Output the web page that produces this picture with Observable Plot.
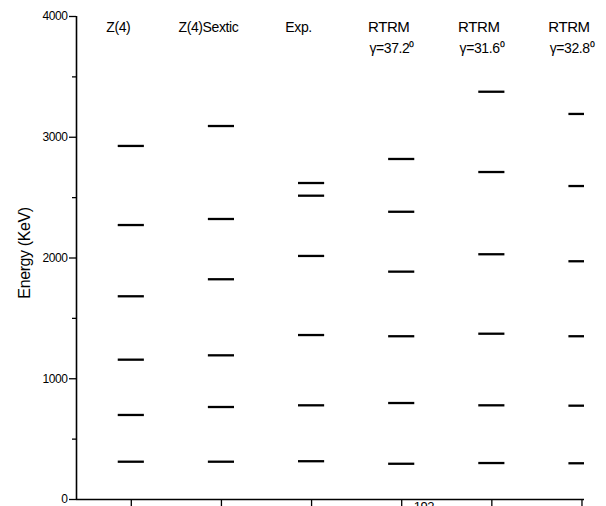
<!DOCTYPE html>
<html>
<head>
<meta charset="utf-8">
<script src="https://cdn.jsdelivr.net/npm/d3@7"></script>
<script src="https://cdn.jsdelivr.net/npm/@observablehq/plot@0.6"></script>
<style>
  html, body { margin: 0; padding: 0; background: #fff; overflow: hidden; }
  #chart { width: 606px; height: 506px; overflow: hidden; }
  #chart text { letter-spacing: -0.4px; }
</style>
</head>
<body>
<div id="chart"></div>
<script>
// Column headers
const headers = ["Z(4)", "Z(4)Sextic", "Exp.", "RTRM", "RTRM", "RTRM"];
const gammas = ["", "", "", "γ=37.2⁰", "γ=31.6⁰", "γ=32.8⁰"];
// Level energies (keV) per column
const z4 = [313, 700, 1158, 1683, 2273, 2928];
const z4Sextic = [313, 766, 1194, 1824, 2323, 3093];
const expt = [317, 780, 1362, 2017, 2516, 2621];
const rtrm372 = [296, 799, 1352, 1887, 2383, 2820];
const rtrm316 = [302, 780, 1373, 2031, 2712, 3377];
const rtrm328 = [300, 777, 1352, 1973, 2596, 3193];
const yTicks = [0, 1000, 2000, 3000, 4000];
const yMinor = [500, 1500, 2500, 3500];
const nucleus = "192";

const series = [z4, z4Sextic, expt, rtrm372, rtrm316, rtrm328];
const levels = series.flatMap((arr, i) => arr.map(E => ({col: i + 1, E})));
const cols = headers.map((h, i) => ({col: i + 1, h, g: gammas[i]}));
const halfW = 0.145;
const font = "'Liberation Sans', Arial, sans-serif";

const chart = Plot.plot({
  width: 606,
  height: 506,
  marginLeft: 76,
  marginRight: 22,
  marginTop: 16,
  marginBottom: 7,
  style: {fontFamily: font, background: "#fff", color: "#000", overflow: "hidden"},
  x: {domain: [0.392, 6.028], axis: null},
  y: {domain: [0, 4000], axis: null},
  marks: [
    // y axis ticks & labels
    Plot.axisY(yTicks, {tickSize: 7, tickPadding: 2, fontSize: 12, label: null, strokeWidth: 1.3, tickFormat: d => String(d)}),
    Plot.axisY(yMinor, {tickSize: 4, text: null, label: null, strokeWidth: 1.3}),
    // x axis ticks (no labels)
    Plot.axisX(cols.map(d => d.col), {tickSize: 8, text: null, label: null, strokeWidth: 1.3}),
    // axis lines
    Plot.ruleX([0.392], {stroke: "#000", strokeWidth: 1.6}),
    Plot.ruleY([0], {stroke: "#000", strokeWidth: 1.6}),
    // energy levels
    Plot.ruleY(levels, {
      y: "E",
      x1: d => d.col - halfW,
      x2: d => d.col + halfW,
      stroke: "#000",
      strokeWidth: 2.3,
      clip: true
    }),
    // headers
    Plot.text(cols, {
      x: "col", text: "h", frameAnchor: "top", dy: 11, dx: -13,
      fontSize: d => d.col > 3 ? 15 : 14, fill: "#000", lineAnchor: "middle"
    }),
    Plot.text(cols, {
      x: "col", text: "g", frameAnchor: "top", dy: 32, dx: -10,
      fontSize: 14, fill: "#000", lineAnchor: "middle"
    }),
    // y label
    Plot.text(["Energy (KeV)"], {
      frameAnchor: "left", textAnchor: "middle", rotate: -90, dx: -52, dy: -5,
      fontSize: 16, fill: "#000", lineAnchor: "middle"
    }),
    // clipped nucleus label at the bottom
    Plot.text([nucleus], {
      x: () => 4, frameAnchor: "bottom", textAnchor: "start", lineAnchor: "top",
      dx: 12, dy: 2, fontSize: 13, fill: "#000"
    })
  ]
});
document.getElementById("chart").append(chart);
</script>
</body>
</html>
